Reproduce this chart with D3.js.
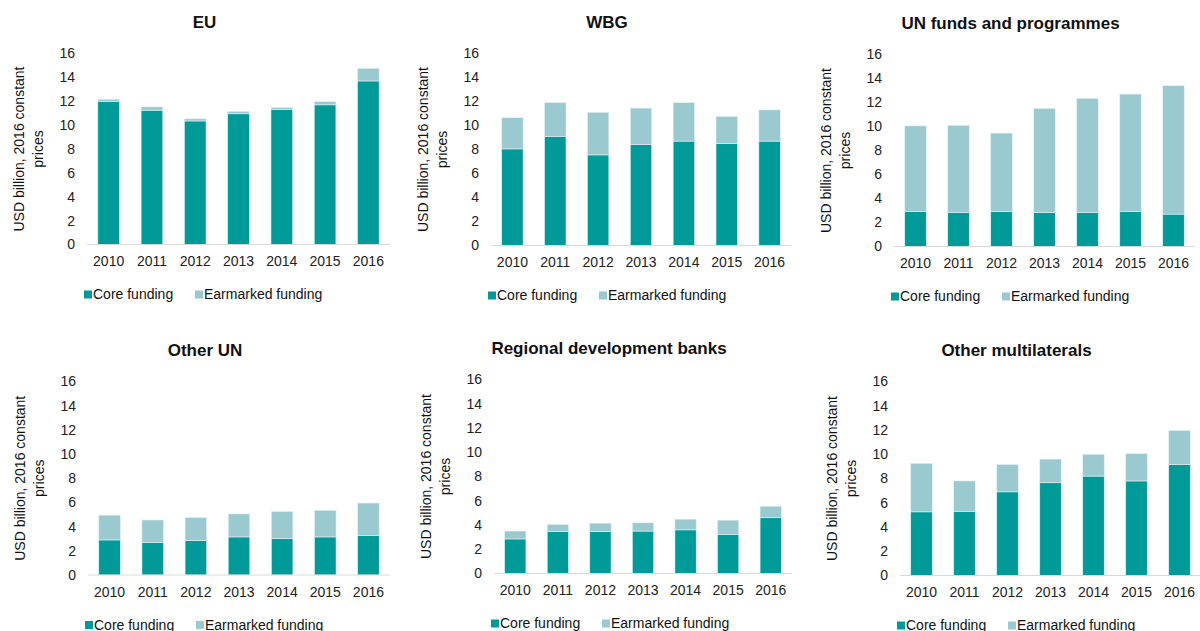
<!DOCTYPE html>
<html>
<head>
<meta charset="utf-8">
<script src="https://cdn.jsdelivr.net/npm/d3@7"></script>
<style>
  html, body { margin: 0; padding: 0; background: #fff; }
  svg { display: block; font-family: "Liberation Sans", Arial, sans-serif; }
  .tick text { fill: #222; font-size: 14px; }
  .title { font-weight: bold; font-size: 17px; fill: #111; }
  .ylab, .legend text { font-size: 14px; fill: #111; }
</style>
</head>
<body>
<svg id="chart" width="1200" height="631"></svg>
<script>
"use strict";

var years = ["2010", "2011", "2012", "2013", "2014", "2015", "2016"];
var yTicks = [0, 2, 4, 6, 8, 10, 12, 14, 16];
var seriesNames = ["Core funding", "Earmarked funding"];
var panelTitles = ["EU", "WBG", "UN funds and programmes", "Other UN", "Regional development banks", "Other multilaterals"];

var euCore = [12.0, 11.25, 10.35, 10.95, 11.3, 11.7, 13.7];
var euEarmarked = [0.17, 0.28, 0.18, 0.2, 0.17, 0.27, 1.05];

var wbgCore = [8.05, 9.1, 7.55, 8.4, 8.7, 8.5, 8.7];
var wbgEarmarked = [2.6, 2.8, 3.55, 3.05, 3.2, 2.25, 2.6];

var unFundsCore = [2.9, 2.85, 2.9, 2.85, 2.85, 2.9, 2.7];
var unFundsEarmarked = [7.15, 7.25, 6.55, 8.65, 9.5, 9.8, 10.7];

var otherUnCore = [2.9, 2.7, 2.85, 3.15, 3.0, 3.15, 3.25];
var otherUnEarmarked = [2.05, 1.85, 1.9, 1.9, 2.25, 2.2, 2.7];

var rdbCore = [2.85, 3.45, 3.45, 3.5, 3.6, 3.2, 4.6];
var rdbEarmarked = [0.65, 0.6, 0.7, 0.68, 0.88, 1.2, 0.95];

var otherMultiCore = [5.25, 5.3, 6.9, 7.65, 8.2, 7.8, 9.15];
var otherMultiEarmarked = [4.0, 2.5, 2.25, 1.95, 1.8, 2.25, 2.8];

var coreSeries = [euCore, wbgCore, unFundsCore, otherUnCore, rdbCore, otherMultiCore];
var earmarkedSeries = [euEarmarked, wbgEarmarked, unFundsEarmarked, otherUnEarmarked, rdbEarmarked, otherMultiEarmarked];

var colors = ["#009b98", "#9bc9d0"];

// plot boxes of each small chart (left, right, y of 16, y of 0)
var layout = [
  { left: 87,  right: 390,  top: 53.5, bottom: 244.5 },
  { left: 491, right: 791,  top: 53.5, bottom: 245.5 },
  { left: 894, right: 1195, top: 54.5, bottom: 246.5 },
  { left: 88,  right: 390,  top: 381.5, bottom: 575 },
  { left: 494, right: 792,  top: 379.5, bottom: 573.5 },
  { left: 900, right: 1201, top: 381.5, bottom: 575.5 }
];

var svg = d3.select("#chart");

panelTitles.forEach(function(title, p) {
  var box = layout[p];
  var rows = years.map(function(yr, i) {
    return { year: yr, core: coreSeries[p][i], earmarked: earmarkedSeries[p][i] };
  });

  var x = d3.scaleBand()
    .domain(years)
    .range([box.left, box.right])
    .paddingInner(0.5)
    .paddingOuter(0.25);

  var y = d3.scaleLinear()
    .domain([0, 16])
    .range([box.bottom, box.top]);

  var stack = d3.stack().keys(["core", "earmarked"]);
  var g = svg.append("g").attr("class", "panel");

  // bars
  g.selectAll("g.layer")
    .data(stack(rows))
  .enter().append("g")
    .attr("class", "layer")
    .attr("fill", function(d, i) { return colors[i]; })
    .selectAll("rect")
    .data(function(d) { return d; })
  .enter().append("rect")
    .attr("x", function(d) { return x(d.data.year); })
    .attr("width", x.bandwidth())
    .attr("y", function(d) { return y(d[1]); })
    .attr("height", function(d) { return y(d[0]) - y(d[1]); })
    .attr("stroke", "#e3f1f2")
    .attr("stroke-width", 0.6);

  // y axis
  var yAxis = g.append("g")
    .attr("transform", "translate(" + box.left + ",0)")
    .call(d3.axisLeft(y).tickValues(yTicks).tickSize(0).tickPadding(12));
  yAxis.select(".domain").remove();
  yAxis.selectAll("text").attr("font-family", null).attr("font-size", null);

  // x axis
  var xAxis = g.append("g")
    .attr("transform", "translate(0," + box.bottom + ")")
    .call(d3.axisBottom(x).tickSize(0).tickPadding(12));
  xAxis.select(".domain")
    .attr("d", "M" + box.left + ",0H" + box.right)
    .attr("stroke", "#d9d9d9");
  xAxis.selectAll("text").attr("font-family", null).attr("font-size", null);

  // y axis label
  var midY = (box.top + box.bottom) / 2;
  [["USD billion, 2016 constant", -68], ["prices", -49]].forEach(function(line) {
    g.append("text")
      .attr("class", "ylab")
      .attr("transform", "translate(" + (box.left + line[1]) + "," + midY + ") rotate(-90)")
      .attr("text-anchor", "middle")
      .attr("dy", "0.35em")
      .text(line[0]);
  });

  // title
  g.append("text")
    .attr("class", "title")
    .attr("x", (box.left + box.right) / 2 - 34)
    .attr("y", box.top - 31)
    .attr("text-anchor", "middle")
    .attr("dy", "0.35em")
    .text(title);

  // legend
  var legend = g.append("g")
    .attr("class", "legend")
    .attr("transform", "translate(" + (box.left - 3) + "," + (box.bottom + 50) + ")");
  var offsets = [0, 111];
  seriesNames.forEach(function(name, i) {
    var item = legend.append("g").attr("transform", "translate(" + offsets[i] + ",0)");
    item.append("rect")
      .attr("x", 0).attr("y", -4)
      .attr("width", 8).attr("height", 8)
      .attr("fill", colors[i]);
    item.append("text")
      .attr("x", 9)
      .attr("dy", "0.35em")
      .text(name);
  });
});
</script>
</body>
</html>
